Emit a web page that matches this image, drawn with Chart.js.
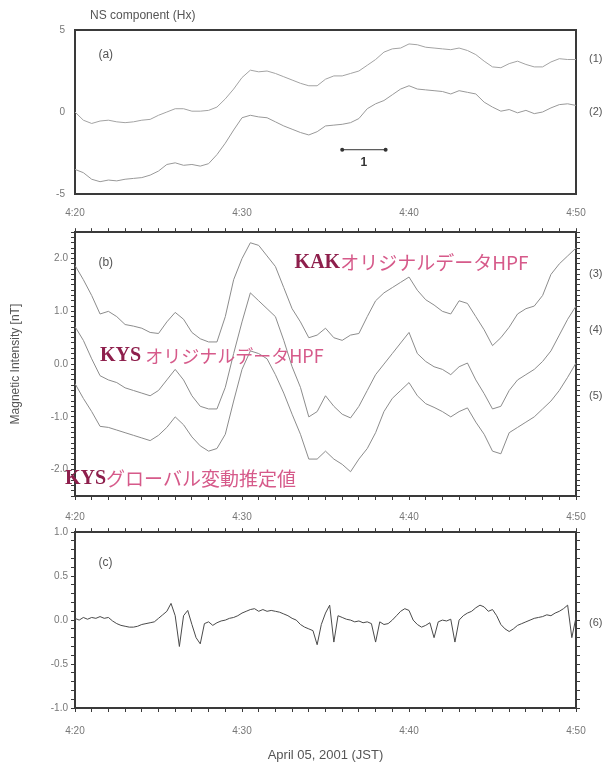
<!DOCTYPE html>
<html>
<head>
<meta charset="utf-8">
<script src="https://cdn.jsdelivr.net/npm/chart.js@4.4.1/dist/chart.umd.min.js"></script>
<style>
  body { margin: 0; background: #fff; width: 611px; height: 767px; overflow: hidden; position: relative; }
  canvas { position: absolute; left: 0; }
</style>
</head>
<body>
<canvas id="chartA" width="611" height="222" style="top:0px"></canvas>
<canvas id="chartB" width="611" height="300" style="top:222px"></canvas>
<canvas id="chartC" width="611" height="245" style="top:522px"></canvas>
<script>
// time axis: minutes after 4:20
const tickLabels = ["4:20", "4:30", "4:40", "4:50"]

// (a) NS component, one value every 30 s
const nsKak = [
  0.0, -0.5, -0.7, -0.55, -0.5, -0.6, -0.65, -0.6, -0.5, -0.45,
  -0.2, 0.0, 0.2, 0.2, 0.05, 0.05, 0.1, 0.3, 0.8, 1.4,
  2.1, 2.55, 2.45, 2.5, 2.35, 2.15, 1.95, 1.75, 1.6, 1.6,
  2.0, 2.2, 2.2, 2.35, 2.5, 2.85, 3.2, 3.65, 3.85, 3.9,
  4.15, 4.1, 3.95, 3.9, 3.85, 3.8, 3.9, 3.75, 3.5, 3.1,
  2.75, 2.7, 2.95, 3.1, 2.9, 2.75, 2.75, 3.05, 3.25, 3.2,
  3.2,
]
const nsKys = [
  -3.5, -3.7, -4.1, -4.25, -4.15, -4.2, -4.1, -4.05, -4.0, -3.85,
  -3.6, -3.2, -3.1, -3.25, -3.2, -3.3, -3.15, -2.6, -1.9, -1.1,
  -0.35, -0.2, -0.3, -0.35, -0.6, -0.85, -1.05, -1.25, -1.4, -1.2,
  -0.85, -0.8, -0.75, -0.65, -0.4, 0.2, 0.5, 0.7, 1.05, 1.4,
  1.6, 1.4, 1.35, 1.3, 1.25, 1.1, 1.3, 1.2, 1.1, 0.6,
  0.3, 0.05, 0.15, -0.05, 0.1, -0.1, 0.0, 0.25, 0.45, 0.5,
  0.4,
]

// (b) high pass filtered, every 30 s
const hpfKak = [
  1.87, 1.6, 1.3, 0.95, 1.0, 0.9, 0.75, 0.72, 0.68, 0.6,
  0.58, 0.8, 0.98, 0.85, 0.6, 0.48, 0.42, 0.42, 0.9, 1.6,
  2.0, 2.3, 2.25, 2.05, 1.85, 1.45, 1.05, 0.8, 0.5, 0.55,
  0.68, 0.5, 0.45, 0.55, 0.58, 0.9, 1.2, 1.35, 1.45, 1.55,
  1.65, 1.4, 1.22, 1.12, 1.0, 0.95, 1.2, 1.15, 0.9, 0.65,
  0.35, 0.5, 0.7, 0.95, 1.05, 1.1, 1.3, 1.7, 1.9, 2.05,
  2.2,
]
const hpfKys = [
  0.71, 0.45, 0.1, -0.22, -0.3, -0.35, -0.45, -0.5, -0.55, -0.6,
  -0.5, -0.3, -0.1, -0.3, -0.6, -0.8, -0.85, -0.85, -0.44, 0.2,
  0.8, 1.35, 1.2, 1.05, 0.9, 0.45, -0.05, -0.44, -1.0, -0.9,
  -0.6, -0.8, -0.95, -1.02, -0.8, -0.5, -0.2, 0.0, 0.2, 0.4,
  0.6, 0.2, 0.05, -0.05, -0.1, -0.2, -0.05, 0.02, -0.3, -0.56,
  -0.85, -0.8, -0.5, -0.3, -0.2, -0.1, 0.05, 0.25, 0.55, 0.85,
  1.1,
]
const globalKys = [
  -0.37, -0.65, -0.9, -1.18, -1.2, -1.25, -1.3, -1.35, -1.4, -1.45,
  -1.35, -1.2, -1.0, -1.15, -1.38, -1.55, -1.65, -1.6, -1.33, -0.7,
  -0.1, 0.25, 0.2, 0.1, -0.2, -0.55, -0.95, -1.33, -1.8, -1.8,
  -1.65, -1.8, -1.9, -2.04, -1.8, -1.6, -1.3, -0.9, -0.65, -0.5,
  -0.35, -0.6, -0.75, -0.82, -0.9, -1.0, -0.9, -0.83, -1.1, -1.33,
  -1.65, -1.7, -1.3, -1.2, -1.1, -1.0, -0.85, -0.7, -0.5, -0.25,
  0.02,
]

// (c) difference, every 15 s
const residual = [
  0.02, 0.0, 0.03, 0.01, 0.03, 0.02, 0.04, 0.02, 0.03, -0.01,
  -0.04, -0.06, -0.07, -0.08, -0.08, -0.07, -0.05, -0.04, -0.03, -0.02,
  0.02, 0.06, 0.1, 0.19, 0.05, -0.3, 0.05, 0.11, -0.05, -0.2,
  -0.27, -0.04, -0.02, -0.06, -0.03, -0.01, 0.0, 0.02, 0.03, 0.05,
  0.08, 0.1, 0.12, 0.13, 0.1, 0.12, 0.1, 0.11, 0.1, 0.09,
  0.07, 0.05, 0.02, 0.0, -0.05, -0.08, -0.1, -0.12, -0.28, -0.05,
  0.08, 0.17, -0.25, 0.05, 0.03, 0.01, 0.0, -0.02, -0.01, -0.03,
  -0.02, -0.04, -0.25, -0.02, -0.05, -0.04, 0.0, 0.05, 0.1, 0.13,
  0.11, 0.0, -0.05, -0.08, -0.06, -0.03, -0.2, -0.02, 0.0, -0.01,
  0.01, -0.25, 0.0, 0.05, 0.08, 0.1, 0.14, 0.17, 0.15, 0.1,
  0.12, 0.05, -0.05, -0.1, -0.13, -0.1, -0.06, -0.04, -0.02, 0.0,
  0.02, 0.03, 0.04, 0.06, 0.05, 0.08, 0.1, 0.13, 0.17, -0.2,
  0.03,
]

Chart.defaults.font.family = "'Liberation Sans', Arial, sans-serif"
Chart.defaults.color = "#666"

const frameColor = "#3a3a3a"
const plotLeft = 75
const plotRight = 576
const pink = "#d65a8a"
const crimson = "#8e1f4c"
const jp = "'Noto Sans CJK JP', sans-serif"
const serifBold = "bold 20px 'Liberation Serif', 'DejaVu Serif', serif"

function points(values, step) {
  return values.map((v, i) => ({ x: i * step, y: v }))
}

function line(values, step, color) {
  return {
    data: points(values, step),
    borderColor: color,
    borderWidth: 1,
    pointRadius: 0,
    tension: 0,
    xAxisID: "x",
    yAxisID: "y",
  }
}

// text drawn at data positions (or right of the frame)
function notesPlugin(notes) {
  return {
    id: "notes",
    afterDraw(chart) {
      const ctx = chart.ctx
      const xs = chart.scales.x
      const ys = chart.scales.y
      ctx.save()
      ctx.textBaseline = "middle"
      notes.forEach((n) => {
        let x = n.right ? chart.chartArea.right + 13 : xs.getPixelForValue(n.t)
        const y = ys.getPixelForValue(n.v)
        n.parts.forEach((p) => {
          ctx.font = p.font
          ctx.fillStyle = p.color
          ctx.fillText(p.text, x, y)
          x += ctx.measureText(p.text).width
        })
      })
      ctx.restore()
    },
  }
}

function plain(text, size, color) {
  return { text: text, font: size + "px 'Liberation Sans', Arial, sans-serif", color: color || "#555" }
}

function scales(o) {
  const frame = { display: true, color: frameColor, width: 2 }
  const grid = o.marks
    ? { drawOnChartArea: false, drawTicks: true, tickLength: 4, color: frameColor }
    : { drawOnChartArea: false, drawTicks: false }
  const yTicks = {
    stepSize: o.yStep,
    autoSkip: false,
    padding: o.marks ? 3 : 10,
    font: { size: 10 },
    color: "#777",
    callback: o.yLabel,
  }
  return {
    x: {
      type: "linear",
      position: "bottom",
      min: 0,
      max: 30,
      ticks: {
        stepSize: 1,
        autoSkip: false,
        maxRotation: 0,
        padding: o.xPad,
        font: { size: 10 },
        color: "#777",
        callback: (v) => (v % 10 === 0 ? tickLabels[v / 10] : ""),
      },
      grid: grid,
      border: frame,
      title: o.xTitle || { display: false },
      afterFit: (s) => { s.height = o.bottom },
    },
    xt: {
      type: "linear",
      position: "top",
      min: 0,
      max: 30,
      ticks: { stepSize: 1, autoSkip: false, maxRotation: 0, callback: () => "" },
      grid: grid,
      border: frame,
      afterFit: (s) => { s.height = o.top },
    },
    y: {
      type: "linear",
      position: "left",
      min: o.yMin,
      max: o.yMax,
      ticks: yTicks,
      grid: grid,
      border: frame,
      title: o.yTitle || { display: false },
      afterFit: (s) => { s.width = plotLeft },
    },
    yr: {
      type: "linear",
      position: "right",
      min: o.yMin,
      max: o.yMax,
      ticks: { stepSize: o.yStep, autoSkip: false, callback: () => "" },
      grid: grid,
      border: frame,
      afterFit: (s) => { s.width = 0 },
    },
  }
}

function panel(id, datasets, o, plugins) {
  return new Chart(document.getElementById(id), {
    type: "line",
    data: { datasets: datasets },
    options: {
      responsive: false,
      animation: false,
      layout: { padding: { left: 0, right: 611 - plotRight, top: 0, bottom: 0 } },
      plugins: { legend: { display: false }, tooltip: { enabled: false } },
      scales: scales(o),
    },
    plugins: plugins,
  })
}

// scale bar in panel (a)
const scaleBar = {
  id: "scaleBar",
  afterDraw(chart) {
    const ctx = chart.ctx
    const xs = chart.scales.x
    const ys = chart.scales.y
    const x1 = xs.getPixelForValue(16.0)
    const x2 = xs.getPixelForValue(18.6)
    const y = ys.getPixelForValue(-2.3)
    ctx.save()
    ctx.strokeStyle = "#333"
    ctx.fillStyle = "#333"
    ctx.lineWidth = 1
    ctx.beginPath()
    ctx.moveTo(x1, y)
    ctx.lineTo(x2, y)
    ctx.stroke()
    ;[x1, x2].forEach((x) => {
      ctx.beginPath()
      ctx.arc(x, y, 2, 0, Math.PI * 2)
      ctx.fill()
    })
    ctx.font = "bold 12px 'Liberation Sans', Arial, sans-serif"
    ctx.textAlign = "center"
    ctx.textBaseline = "middle"
    ctx.fillText("1", (x1 + x2) / 2, ys.getPixelForValue(-3.1))
    ctx.restore()
  },
}

panel(
  "chartA",
  [line(nsKak, 0.5, "#a3a3a3"), line(nsKys, 0.5, "#999")],
  {
    marks: false,
    yMin: -5,
    yMax: 5,
    yStep: 5,
    yLabel: (v) => String(v),
    xPad: 13,
    top: 30,
    bottom: 28,
  },
  [
    notesPlugin([
      { t: 0.9, v: 5.85, parts: [plain("NS component (Hx)", 12)] },
      { t: 1.4, v: 3.5, parts: [plain("(a)", 12)] },
      { right: true, v: 3.25, parts: [plain("(1)", 11)] },
      { right: true, v: 0.0, parts: [plain("(2)", 11)] },
    ]),
    scaleBar,
  ]
)

panel(
  "chartB",
  [line(hpfKak, 0.5, "#8c8c8c"), line(hpfKys, 0.5, "#8c8c8c"), line(globalKys, 0.5, "#8c8c8c")],
  {
    marks: true,
    yMin: -2.5,
    yMax: 2.5,
    yStep: 0.1,
    yLabel: (v) => {
      const r = Math.round(v)
      return Math.abs(v - r) < 1e-6 ? r.toFixed(1) : ""
    },
    yTitle: {
      display: true,
      text: "Magnetic Intensity [nT]",
      font: { size: 12 },
      color: "#555",
      padding: { top: 8, bottom: 0 },
    },
    xPad: 11,
    top: 6,
    bottom: 26,
  },
  [
    notesPlugin([
      { t: 1.4, v: 1.92, parts: [plain("(b)", 12)] },
      {
        t: 13.15,
        v: 1.92,
        parts: [
          { text: "KAK", font: serifBold, color: crimson },
          { text: "オリジナルデータHPF", font: "19px " + jp, color: pink },
        ],
      },
      {
        t: 1.5,
        v: 0.15,
        parts: [
          { text: "KYS", font: serifBold, color: crimson },
          { text: " オリジナルデータHPF", font: "18px " + jp, color: pink },
        ],
      },
      {
        t: -0.6,
        v: -2.18,
        parts: [
          { text: "KYS", font: serifBold, color: crimson },
          { text: "グローバル変動推定値", font: "19px " + jp, color: pink },
        ],
      },
      { right: true, v: 1.7, parts: [plain("(3)", 11)] },
      { right: true, v: 0.65, parts: [plain("(4)", 11)] },
      { right: true, v: -0.6, parts: [plain("(5)", 11)] },
    ]),
  ]
)

panel(
  "chartC",
  [line(residual, 0.25, "#4a4a4a")],
  {
    marks: true,
    yMin: -1,
    yMax: 1,
    yStep: 0.1,
    yLabel: (v) => {
      const r = Math.round(v * 2) / 2
      return Math.abs(v - r) < 1e-6 ? r.toFixed(1) : ""
    },
    xTitle: {
      display: true,
      text: "April 05, 2001 (JST)",
      font: { size: 13 },
      color: "#555",
      padding: { top: 0, bottom: 4 },
    },
    xPad: 13,
    top: 8,
    bottom: 59,
  },
  [
    notesPlugin([
      { t: 1.4, v: 0.65, parts: [plain("(c)", 12)] },
      { right: true, v: -0.03, parts: [plain("(6)", 11)] },
    ]),
  ]
)
</script>
</body>
</html>
